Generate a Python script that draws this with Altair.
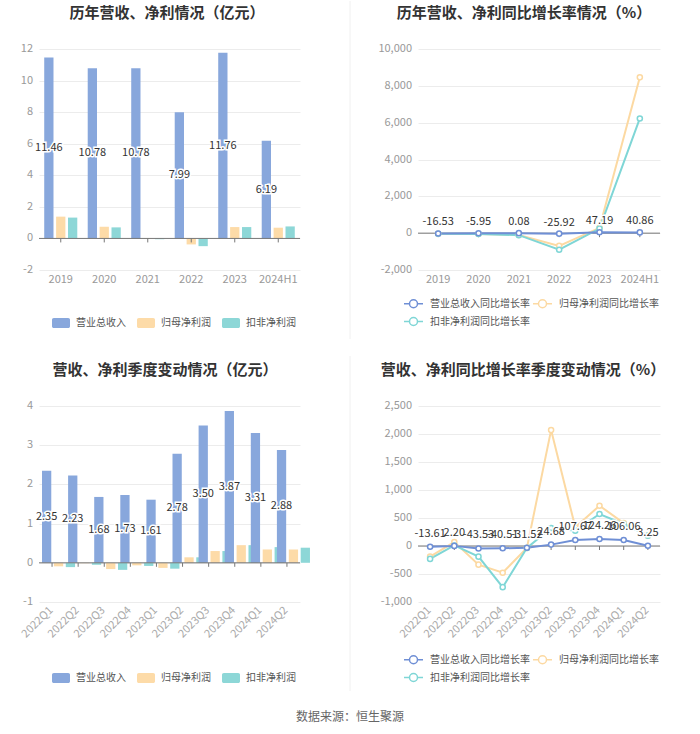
import altair as alt
import pandas as pd

FONT = "Noto Sans CJK SC"

# ---------------- data ----------------
years = ["2019", "2020", "2021", "2022", "2023", "2024H1"]
year_rev = [11.46, 10.78, 10.78, 7.99, 11.76, 6.19]
year_np = [1.38, 0.74, -0.02, -0.38, 0.72, 0.68]
year_kf = [1.32, 0.70, -0.05, -0.49, 0.72, 0.76]

year_rev_g = [-16.53, -5.95, 0.08, -25.92, 47.19, 40.86]
year_np_g = [-30, -46, -103, -690, 290, 8460]
year_kf_g = [-35, -47, -107, -900, 245, 6230]

quarters = ["2022Q1", "2022Q2", "2022Q3", "2022Q4", "2023Q1",
            "2023Q2", "2023Q3", "2023Q4", "2024Q1", "2024Q2"]
q_rev = [2.35, 2.23, 1.68, 1.73, 1.61, 2.78, 3.50, 3.87, 3.31, 2.88]
q_np = [-0.09, -0.01, -0.16, -0.065, -0.13, 0.14, 0.30, 0.45, 0.34, 0.34]
q_kf = [-0.11, -0.05, -0.18, -0.08, -0.15, 0.14, 0.30, 0.45, 0.40, 0.385]

q_rev_g = [-13.61, 2.20, -43.53, -40.51, -31.52, 24.68, 107.67, 124.26, 106.06, 3.25]
q_np_g = [-190, 70, -333, -477, -35, 2070, 333, 720, 410, 185]
q_kf_g = [-230, 10, -190, -735, -35, 321, 274, 571, 393, 185]

# y tick values of the four panels
yt_tl = [-2, 0, 2, 4, 6, 8, 10, 12]
yt_tr = [-2000, 0, 2000, 4000, 6000, 8000, 10000]
yt_bl = [-1, 0, 1, 2, 3, 4]
yt_br = [-1000, -500, 0, 500, 1000, 1500, 2000, 2500]

bar_series = ["营业总收入", "归母净利润", "扣非净利润"]
bar_colors = ["#88a7dc", "#fddba8", "#8dd7d7"]
line_series = ["营业总收入同比增长率", "归母净利润同比增长率", "扣非净利润同比增长率"]
line_colors = ["#6f8fd5", "#fcd9a2", "#7fd6d6"]

titles = ["历年营收、净利情况（亿元）", "历年营收、净利同比增长率情况（%）",
          "营收、净利季度变动情况（亿元）", "营收、净利同比增长率季度变动情况（%）"]
source_text = "数据来源：恒生聚源"

RECT_SYM = ("M-0.8,-0.55H0.8A0.2,0.2,0,0,1,1,-0.35V0.35A0.2,0.2,0,0,1,0.8,0.55"
            "H-0.8A0.2,0.2,0,0,1,-1,0.35V-0.35A0.2,0.2,0,0,1,-0.8,-0.55Z")
LINE_SYM = "M-1,0L-0.42,0M0.42,0L1,0M0.42,0A0.42,0.42,0,1,1,-0.42,0A0.42,0.42,0,1,1,0.42,0Z"


def title_mark(text, cx):
    return alt.Chart(pd.DataFrame({"t": [text]})).mark_text(
        fontSize=15, fontWeight="bold", color="#333", font=FONT, baseline="middle",
        align="center").encode(x=alt.value(cx), y=alt.value(-36), text="t:N")


def axes(yvals):
    yax = alt.Axis(title=None, values=yvals, labels=False, domain=False, ticks=False,
                   grid=True, gridColor="#ececec")
    xax = alt.Axis(title=None, labels=False, domain=False, ticks=False, grid=False)
    return xax, yax


def tick_label_layers(cats, yvals, xenc_kw, yscale, h, angle, xcolor):
    ydf = pd.DataFrame({"v": yvals, "lab": [f"{v:,}" for v in yvals]})
    ylab = alt.Chart(ydf).mark_text(fontSize=11, font=FONT, color="#999", align="right",
                                    baseline="middle").encode(
        x=alt.value(-6), y=alt.Y("v:Q", **yscale), text="lab:N")
    xdf = pd.DataFrame({"cat": cats})
    if angle == 0:
        xlab = alt.Chart(xdf).mark_text(fontSize=11, font=FONT, color=xcolor, align="center",
                                        baseline="middle").encode(
            x=alt.X("cat:N", **xenc_kw), y=alt.value(h + 10), text="cat:N")
    else:
        xlab = alt.Chart(xdf).mark_text(fontSize=11, font=FONT, color=xcolor, align="right",
                                        baseline="middle", angle=315, dx=-1).encode(
            x=alt.X("cat:N", **xenc_kw), y=alt.value(h + 6), text="cat:N")
    return [ylab, xlab]


def bar_panel(cats, rev, npv, kf, ydom, yvals, title, w, h, angle, xcolor,
              pin, title_cx, legend_y, extra=None):
    rows = []
    for i, c in enumerate(cats):
        for s, v in zip(bar_series, (rev[i], npv[i], kf[i])):
            rows.append({"cat": c, "series": s, "value": v})
    df = pd.DataFrame(rows)
    xax, yax = axes(yvals)
    ysc = dict(scale=alt.Scale(domain=ydom, nice=False), axis=yax)
    xkw = dict(sort=cats, scale=alt.Scale(type="band", paddingInner=pin, paddingOuter=pin / 2),
               axis=xax)
    xo = alt.XOffset("series:N", sort=bar_series,
                     scale=alt.Scale(domain=bar_series, paddingInner=0.22))
    bars = alt.Chart(df).mark_bar().encode(
        x=alt.X("cat:N", **xkw),
        xOffset=xo,
        y=alt.Y("value:Q", stack=None, **ysc),
        color=alt.Color("series:N", sort=bar_series,
                        scale=alt.Scale(domain=bar_series, range=bar_colors),
                        legend=alt.Legend(title=None, orient="none", legendX=13, legendY=legend_y,
                                          direction="horizontal", symbolType=RECT_SYM,
                                          symbolSize=324, symbolStrokeWidth=0, labelFontSize=10,
                                          labelColor="#555", labelFont=FONT, columnPadding=11,
                                          labelOffset=6)),
    )
    zero = alt.Chart(pd.DataFrame({"z": [0]})).mark_rule(color="#777", strokeWidth=1).encode(
        y=alt.Y("z:Q", **ysc))
    tdf = pd.DataFrame({"cat": cats, "z": [0] * len(cats)})
    ticks = alt.Chart(tdf).mark_rule(color="#777", strokeWidth=1, y2Offset=4).encode(
        x=alt.X("cat:N", **xkw), y=alt.Y("z:Q", **ysc), y2="z:Q")
    ldf = df[df.series == bar_series[0]].copy()
    ldf["mid"] = ldf["value"] / 2
    ldf["lab"] = ldf["value"].map(lambda v: f"{v:.2f}")
    lenc = dict(x=alt.X("cat:N", **xkw), xOffset=xo,
                y=alt.Y("mid:Q", **ysc), text="lab:N")
    halo = alt.Chart(ldf).mark_text(fontSize=11, font=FONT, color="white", stroke="white",
                                    strokeWidth=3, baseline="middle").encode(**lenc)
    labels = alt.Chart(ldf).mark_text(fontSize=11, font=FONT, color="#333",
                                      baseline="middle").encode(**lenc)
    layers = [bars, zero, ticks, halo, labels, title_mark(title, title_cx)]
    layers += tick_label_layers(cats, yvals, xkw, ysc, h, angle, xcolor)
    if extra:
        layers = extra + layers
    return alt.layer(*layers).properties(width=w, height=h)


def line_panel(cats, rg, ng, kg, ydom, yvals, title, w, h, angle, xcolor,
               title_cx, legend_y, label_dy):
    rows = []
    order = [(1, ng), (2, kg), (0, rg)]
    for si, vals in order:
        for c, v in zip(cats, vals):
            rows.append({"cat": c, "series": line_series[si], "value": v})
    df = pd.DataFrame(rows)
    xax, yax = axes(yvals)
    ysc = dict(scale=alt.Scale(domain=ydom, nice=False), axis=yax)
    xkw = dict(sort=cats, scale=alt.Scale(type="point", padding=0.5), axis=xax)
    cscale = alt.Scale(domain=line_series, range=line_colors)
    zero = alt.Chart(pd.DataFrame({"z": [0]})).mark_rule(color="#777", strokeWidth=1).encode(
        y=alt.Y("z:Q", **ysc))
    tdf = pd.DataFrame({"cat": cats, "z": [0] * len(cats)})
    ticks = alt.Chart(tdf).mark_rule(color="#777", strokeWidth=1, y2Offset=4).encode(
        x=alt.X("cat:N", **xkw), y=alt.Y("z:Q", **ysc), y2="z:Q")
    lines = alt.Chart(df).mark_line(strokeWidth=2).encode(
        x=alt.X("cat:N", **xkw), y=alt.Y("value:Q", **ysc),
        color=alt.Color("series:N", sort=line_series, scale=cscale,
                        legend=alt.Legend(title=None, orient="none", legendX=-15, legendY=legend_y,
                                          direction="horizontal", columns=2, symbolType=LINE_SYM,
                                          symbolSize=361, symbolStrokeWidth=1.5,
                                          symbolFillColor="white", labelFontSize=10,
                                          labelColor="#555", labelFont=FONT, columnPadding=0,
                                          rowPadding=0, labelOffset=6)))
    pts = alt.Chart(df).mark_point(filled=True, fill="white", size=26, strokeWidth=1.5,
                                   opacity=1).encode(
        x=alt.X("cat:N", **xkw), y=alt.Y("value:Q", **ysc),
        stroke=alt.Stroke("series:N", scale=cscale, legend=None))
    ldf = pd.DataFrame({"cat": cats, "value": rg, "lab": [f"{v:.2f}" for v in rg]})
    lenc = dict(x=alt.X("cat:N", **xkw), y=alt.Y("value:Q", **ysc), text="lab:N")
    halo = alt.Chart(ldf).mark_text(fontSize=11, font=FONT, color="white", stroke="white",
                                    strokeWidth=3, baseline="middle", dy=label_dy).encode(**lenc)
    labels = alt.Chart(ldf).mark_text(fontSize=11, font=FONT, color="#333",
                                      baseline="middle", dy=label_dy).encode(**lenc)
    layers = [zero, ticks, lines, pts, halo, labels, title_mark(title, title_cx)]
    layers += tick_label_layers(cats, yvals, xkw, ysc, h, angle, xcolor)
    return alt.layer(*layers).properties(width=w, height=h)


# invisible frame fixing the page bounds (relative to top-left plot area)
frame = alt.Chart(pd.DataFrame({"a": [0]})).mark_rect(opacity=0).encode(
    x=alt.value(-39), x2=alt.value(661), y=alt.value(-48), y2=alt.value(686))
sep_top = alt.Chart(pd.DataFrame({"a": [0]})).mark_rule(color="#f0f0f0").encode(
    x=alt.value(311), y=alt.value(-48), y2=alt.value(290))
sep_bot = alt.Chart(pd.DataFrame({"a": [0]})).mark_rule(color="#f0f0f0").encode(
    x=alt.value(311), y=alt.value(-50), y2=alt.value(285))
source = alt.Chart(pd.DataFrame({"t": [source_text]})).mark_text(
    fontSize=12, font=FONT, color="#666", baseline="middle").encode(
    x=alt.value(311), y=alt.value(311), text="t:N")

tl = bar_panel(years, year_rev, year_np, year_kf, [-2, 12], yt_tl,
               titles[0], 261, 221, 0, "#999", 0.24, 128, 265,
               extra=[frame, sep_top])
tr = line_panel(years, year_rev_g, year_np_g, year_kf_g, [-2000, 10000], yt_tr,
                titles[1], 242, 221, 0, "#999", 106, 244, -11)
bl = bar_panel(quarters, q_rev, q_np, q_kf, [-1, 4], yt_bl,
               titles[2], 261, 196, -45, "#aaa", 0.23, 126, 263,
               extra=[sep_bot, source])
br = line_panel(quarters, q_rev_g, q_np_g, q_kf_g, [-1000, 2500], yt_br,
                titles[3], 242, 196, -45, "#aaa", 105, 243, -13)

chart = alt.concat(
    tl, tr, bl, br, columns=2, spacing=alt.RowColnumber(row=136, column=118),
    bounds="flush", align="each"
).resolve_scale(
    color="independent", x="independent", y="independent"
).resolve_legend(
    color="independent"
).properties(
    autosize=alt.AutoSizeParams(type="pad"),
    padding=0,
    background="white",
).configure(font=FONT).configure_view(stroke=None)

chart.save("out.html", embed_options={"renderer": "svg", "actions": False})
